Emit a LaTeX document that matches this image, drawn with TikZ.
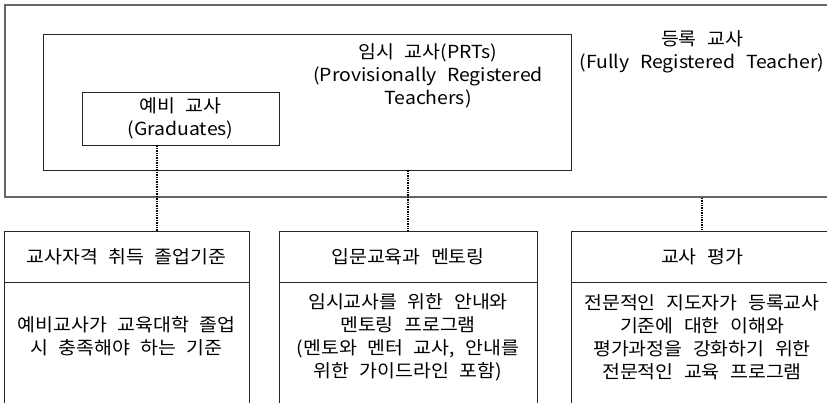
\documentclass[tikz,border=0pt]{standalone}
\usepackage{fontspec}
\setmainfont{Noto Sans CJK KR}[FakeStretch=1.08, WordSpace=2.4]
\begin{document}
\begin{tikzpicture}[x=1pt,y=-1pt,
  font=\fontsize{18}{23}\selectfont,
  box/.style={draw=black!85, line width=0.9pt, inner sep=0pt},
  outerbox/.style={draw=black!60, line width=1.4pt, inner sep=0pt},
  lbl/.style={align=center, inner sep=0pt},
  conn/.style={draw=black, line width=1.8pt, dash pattern=on 1.4pt off 1pt}]
\useasboundingbox (0,0) rectangle (827,402);
\clip (0,0) rectangle (827,402);
% containers
\node[outerbox, minimum width=830, minimum height=192] (outer) at (420,101) {};
\node[box, minimum width=528, minimum height=136] (prts) at (307,102) {};
\node[box, minimum width=197, minimum height=53, align=center] (grad) at (180.5,118.5) {예비 교사\\(Graduates)};
% labels
\node[lbl] (prtsl) at (428,76) {임시 교사(PRTs)\\(Provisionally Registered\\Teachers)};
\node[lbl] (frtl) at (702,52) {등록 교사\\(Fully Registered Teacher)};
% bottom boxes: titles
\node[box, minimum width=245, minimum height=51] (b1t) at (126.5,256.5) {교사자격 취득 졸업기준};
\node[box, minimum width=258, minimum height=51] (b2t) at (408,256.5) {입문교육과 멘토링};
\node[box, minimum width=262, minimum height=51] (b3t) at (702,256.5) {교사 평가};
% bottom boxes: bodies
\node[box, anchor=north, minimum width=245, minimum height=180] (b1b) at (b1t.south) {};
\node[box, anchor=north, minimum width=258, minimum height=180] (b2b) at (b2t.south) {};
\node[box, anchor=north, minimum width=262, minimum height=180] (b3b) at (b3t.south) {};
% body texts
\node[lbl] (b1x) at (126.5,336) {예비교사가 교육대학 졸업\\시 충족해야 하는 기준};
\node[lbl] (b2x) at (408,337) {임시교사를 위한 안내와\\멘토링 프로그램\\(멘토와 멘터 교사, 안내를\\위한 가이드라인 포함)};
\node[lbl] (b3x) at (702,337) {전문적인 지도자가 등록교사\\기준에 대한 이해와\\평가과정을 강화하기 위한\\전문적인 교육 프로그램};
% connectors
\coordinate (c1) at (157,0);
\draw[conn] (grad.south -| c1) -- (b1t.north -| c1);
\draw[conn] (prts.south -| b2t.north) -- (b2t.north);
\draw[conn] (outer.south -| b3t.north) -- (b3t.north);
\end{tikzpicture}
\end{document}
